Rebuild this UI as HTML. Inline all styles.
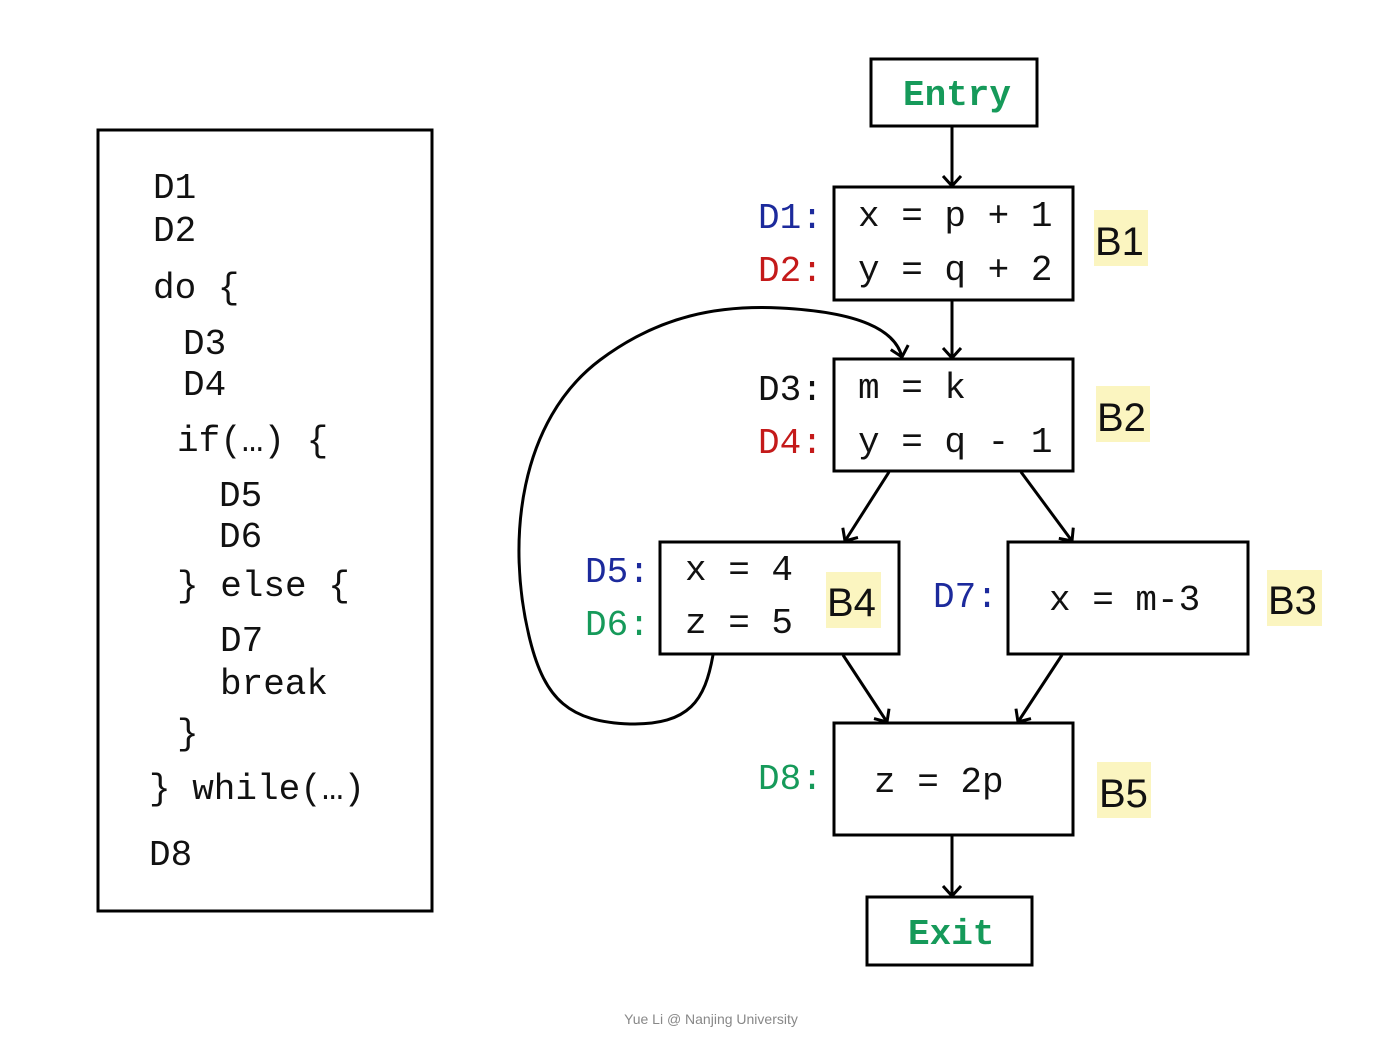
<!DOCTYPE html>
<html><head><meta charset="utf-8"><style>
html,body{margin:0;padding:0;background:#fff;}
svg{display:block;}
.m{font-family:"Liberation Mono",monospace;font-size:36px;fill:#111;}
.b{font-family:"Liberation Sans",sans-serif;font-size:40px;fill:#111;}
</style></head><body>
<svg width="1392" height="1064" viewBox="0 0 1392 1064" xmlns="http://www.w3.org/2000/svg">
<defs>
<marker id="a" viewBox="0 0 20 20" refX="18" refY="10" markerWidth="20" markerHeight="20" markerUnits="userSpaceOnUse" orient="auto">
<path d="M8,1 L18,10 L8,19" fill="none" stroke="#000" stroke-width="3"/>
</marker>
</defs>
<g stroke="#000" stroke-width="3" fill="none">
<rect x="98" y="130" width="334" height="781"/>
<rect x="871" y="59" width="166" height="67"/>
<rect x="834" y="187" width="239" height="113"/>
<rect x="834" y="359" width="239" height="112"/>
<rect x="660" y="542" width="239" height="112"/>
<rect x="1008" y="542" width="240" height="112"/>
<rect x="834" y="723" width="239" height="112"/>
<rect x="867" y="897" width="165" height="68"/>
</g>
<g stroke="#000" stroke-width="3" fill="none" marker-end="url(#a)">
<line x1="952" y1="127" x2="952" y2="186"/>
<line x1="952" y1="301" x2="952" y2="358"/>
<line x1="889" y1="472" x2="845" y2="541"/>
<line x1="1021" y1="472" x2="1072" y2="541"/>
<line x1="843" y1="655" x2="887" y2="722"/>
<line x1="1062" y1="655" x2="1018" y2="722"/>
<line x1="952" y1="836" x2="952" y2="896"/>
<path d="M713,655 C705,700 690,725 630,724 C570,722 545,700 530,640 C505,540 520,420 600,360 C660,315 720,305 780,308 C860,312 895,330 902,357"/>
</g>
<g fill="#fbf5c0">
<rect x="1094" y="210" width="54" height="56"/>
<rect x="1096" y="386" width="54" height="56"/>
<rect x="826" y="572" width="55" height="56"/>
<rect x="1267" y="570" width="55" height="56"/>
<rect x="1097" y="762" width="54" height="56"/>
</g>
<g class="b">
<text x="1095" y="255">B1</text>
<text x="1097" y="431">B2</text>
<text x="827" y="616">B4</text>
<text x="1268" y="614">B3</text>
<text x="1099" y="807">B5</text>
</g>
<g class="m" xml:space="preserve">
<text x="903" y="105" style="fill:#169a5a;font-weight:bold">Entry</text>
<text x="908" y="944" style="fill:#169a5a;font-weight:bold">Exit</text>
<text x="758" y="228" style="fill:#1c2a9c">D1:</text>
<text x="758" y="281" style="fill:#c41a1a">D2:</text>
<text x="758" y="400">D3:</text>
<text x="758" y="453" style="fill:#c41a1a">D4:</text>
<text x="585" y="582" style="fill:#1c2a9c">D5:</text>
<text x="585" y="635" style="fill:#169a5a">D6:</text>
<text x="933" y="607" style="fill:#1c2a9c">D7:</text>
<text x="758" y="789" style="fill:#169a5a">D8:</text>
<text x="858" y="226">x = p + 1</text>
<text x="858" y="280">y = q + 2</text>
<text x="858" y="398">m = k</text>
<text x="858" y="452">y = q - 1</text>
<text x="685" y="580">x = 4</text>
<text x="685" y="633">z = 5</text>
<text x="1049" y="610">x = m-3</text>
<text x="874" y="792">z = 2p</text>
<text x="153" y="198">D1</text>
<text x="153" y="241">D2</text>
<text x="153" y="298">do {</text>
<text x="183" y="354">D3</text>
<text x="183" y="395">D4</text>
<text x="177" y="451">if(…) {</text>
<text x="219" y="506">D5</text>
<text x="219" y="547">D6</text>
<text x="177" y="596">} else {</text>
<text x="220" y="651">D7</text>
<text x="220" y="694">break</text>
<text x="177" y="744">}</text>
<text x="149" y="799">} while(…)</text>
<text x="149" y="865">D8</text>
</g>
<text x="711" y="1024" text-anchor="middle" font-family="Liberation Sans,sans-serif" font-size="14" fill="#888">Yue Li @ Nanjing University</text>
</svg>
</body></html>
